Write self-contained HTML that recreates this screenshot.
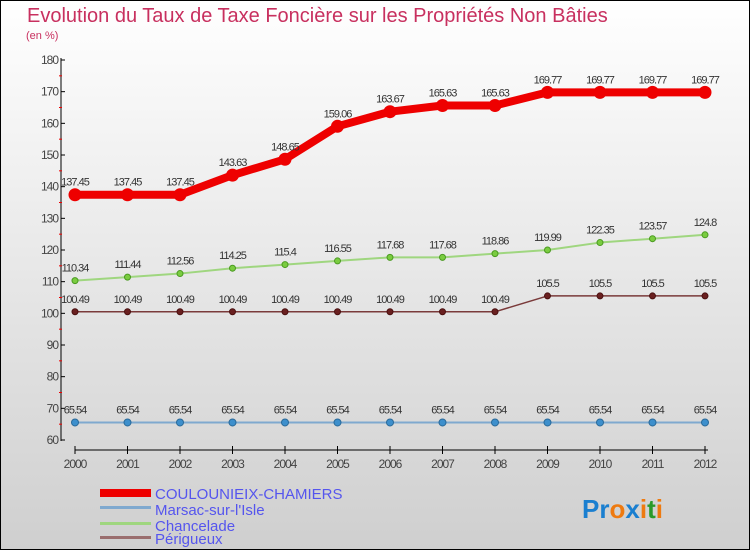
<!DOCTYPE html>
<html><head><meta charset="utf-8"><style>
body{margin:0;width:750px;height:550px;overflow:hidden}
svg{display:block;font-family:"Liberation Sans",sans-serif}
</style></head><body>
<svg id="chart" width="750" height="550">
<defs><linearGradient id="bg" x1="0" y1="0" x2="0" y2="1"><stop offset="0" stop-color="#ffffff"/><stop offset="1" stop-color="#cfcfcf"/></linearGradient></defs>
<rect x="0.5" y="0.5" width="749" height="549" fill="url(#bg)" stroke="#000"/>
<text x="27" y="22" font-size="20" fill="#c8305f">Evolution du Taux de Taxe Foncière sur les Propriétés Non Bâties</text>
<text x="26" y="39" font-size="11" fill="#c8305f">(en %)</text>
<g id="axes"></g><g id="series"></g>
<g>
<rect x="100" y="489" width="51" height="8" fill="#e00"/>
<text x="155" y="499" font-size="15" fill="#5555ee">COULOUNIEIX-CHAMIERS</text>
<rect x="100" y="506" width="51" height="3" fill="#7fa9cf"/>
<text x="155" y="515" font-size="15" fill="#5555ee">Marsac-sur-l'Isle</text>
<rect x="100" y="522" width="51" height="3" fill="#9fd67f"/>
<text x="155" y="531" font-size="15" fill="#5555ee">Chancelade</text>
<rect x="100" y="536" width="51" height="3" fill="#9a6e6e"/>
<text x="155" y="544" font-size="15" fill="#5555ee">Périgueux</text>
</g>
<text x="582" y="518" font-size="26" font-weight="bold"><tspan fill="#1a7fd0">Pr</tspan><tspan fill="#ee7a10">o</tspan><tspan fill="#1a7fd0">x</tspan><tspan fill="#ee7a10">i</tspan><tspan fill="#2a9a2a">t</tspan><tspan fill="#ee7a10">i</tspan></text>
</svg>
<script>
const years=[2000,2001,2002,2003,2004,2005,2006,2007,2008,2009,2010,2011,2012];
const yTicks=[60,70,80,90,100,110,120,130,140,150,160,170,180];
const coulounieix=[137.45,137.45,137.45,143.63,148.65,159.06,163.67,165.63,165.63,169.77,169.77,169.77,169.77];
const marsac=[65.54,65.54,65.54,65.54,65.54,65.54,65.54,65.54,65.54,65.54,65.54,65.54,65.54];
const chancelade=[110.34,111.44,112.56,114.25,115.4,116.55,117.68,117.68,118.86,119.99,122.35,123.57,124.8];
const perigueux=[100.49,100.49,100.49,100.49,100.49,100.49,100.49,100.49,100.49,105.5,105.5,105.5,105.5];
const NS="http://www.w3.org/2000/svg";
const x=i=>75+i*(630/(years.length-1));
const y=v=>440-(v-60)*(380/120);
function mk(tag,attrs,parent,txt){const e=document.createElementNS(NS,tag);for(const k in attrs)e.setAttribute(k,attrs[k]);if(txt!==undefined)e.textContent=txt;parent.appendChild(e);return e;}
const ax=document.getElementById('axes');
let a=mk('line',{x1:61,y1:58,x2:61,y2:441,stroke:'#000'},ax);


yTicks.forEach(t=>{
 const l=mk('line',{x1:61,x2:65,y1:y(t),y2:y(t),stroke:'#000'},ax);
 
 
 const m=mk('line',{x1:59,x2:62,y1:y(t+5),y2:y(t+5),stroke:'#e00'},ax);
 if(t==180)m.remove();
 const tx=mk('text',{x:58,y:y(t)+4,'font-size':12,fill:'#444','text-anchor':'end','letter-spacing':'-1'},ax,String(t));
 
 
});
a=mk('line',{x1:75,y1:450,x2:708,y2:450,stroke:'#000'},ax);


years.forEach((yr,i)=>{
 mk('line',{x1:x(i),x2:x(i),y1:446,y2:454,stroke:'#000'},ax);
 const tx=mk('text',{x:x(i),y:468,'font-size':12,fill:'#444','text-anchor':'middle','letter-spacing':'-1'},ax,String(yr));
 
 
});
const sg=document.getElementById('series');
function series(name,data,color,w,r,dot,dotStroke){
 const g=mk('g',{},sg);
 
 
 const pl=mk('polyline',{points:data.map((v,i)=>x(i)+','+y(v)).join(' '),fill:'none',stroke:color,'stroke-width':w,'stroke-linejoin':'round'},g);
 
 
 data.forEach((v,i)=>{
  const c=mk('circle',{cx:x(i),cy:y(v),r:r,fill:dot,stroke:dotStroke,'stroke-width':1},g);
  
  
  const t=mk('text',{x:x(i),y:y(v)-9,'font-size':11,fill:'#333','text-anchor':'middle','letter-spacing':'-1'},g,String(v));
  
  
 });
}
series('marsac',marsac,'#7fa9cf',2,3.5,'#3d8fcc','#2a6a9a');
series('perigueux',perigueux,'#7a3a3a',1.5,3,'#6a2020','#4a1010');
series('chancelade',chancelade,'#9fd67f',2,3,'#7acc40','#4a9a20');
series('coulounieix',coulounieix,'#e00',8,6,'#e00','#e00');
</script>
</body></html>
